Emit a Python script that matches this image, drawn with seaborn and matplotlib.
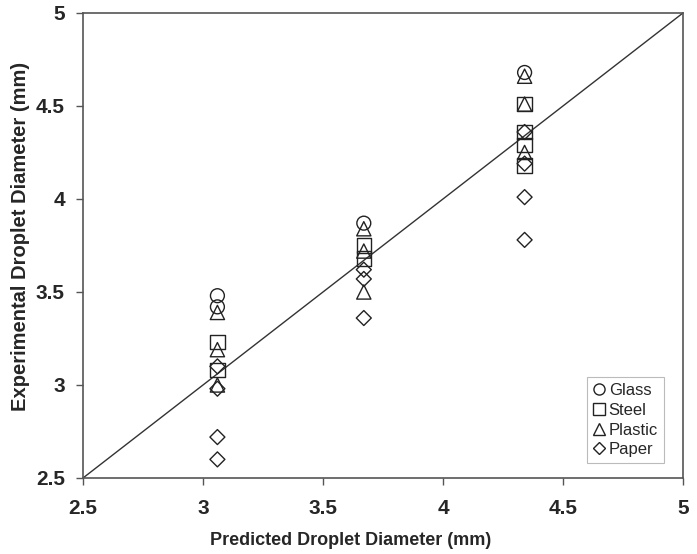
import numpy as np
import pandas as pd
import matplotlib
matplotlib.use("Agg")
import matplotlib.pyplot as plt
from matplotlib.lines import Line2D
import seaborn as sns

# ---- data ----
materials = ["Glass", "Steel", "Plastic", "Paper"]
glass_x = [3.06, 3.06, 3.67, 4.34]
glass_y = [3.48, 3.42, 3.87, 4.68]
steel_x = [3.06, 3.06, 3.67, 3.67, 4.34, 4.34, 4.34, 4.34]
steel_y = [3.23, 3.08, 3.75, 3.68, 4.51, 4.36, 4.29, 4.18]
plastic_x = [3.06, 3.06, 3.06, 3.67, 3.67, 3.67, 4.34, 4.34, 4.34]
plastic_y = [3.39, 3.19, 3.00, 3.84, 3.72, 3.50, 4.66, 4.51, 4.25]
paper_x = [3.06, 3.06, 3.06, 3.06, 3.67, 3.67, 3.67, 4.34, 4.34, 4.34, 4.34]
paper_y = [3.10, 2.98, 2.72, 2.60, 3.62, 3.57, 3.36, 4.36, 4.19, 4.01, 3.78]
x_ticks = [2.5, 3, 3.5, 4, 4.5, 5]
y_ticks = [2.5, 3, 3.5, 4, 4.5, 5]
tick_labels = ["2.5", "3", "3.5", "4", "4.5", "5"]

df = pd.concat([
    pd.DataFrame({"pred": glass_x, "exp": glass_y, "Material": "Glass"}),
    pd.DataFrame({"pred": steel_x, "exp": steel_y, "Material": "Steel"}),
    pd.DataFrame({"pred": plastic_x, "exp": plastic_y, "Material": "Plastic"}),
    pd.DataFrame({"pred": paper_x, "exp": paper_y, "Material": "Paper"}),
], ignore_index=True)

sns.set_style("white")
plt.rcParams["font.family"] = ["Liberation Sans", "DejaVu Sans"]

fig = plt.figure(figsize=(6.97, 5.54), dpi=100)
ax = fig.add_axes([0.1191, 0.1372, 0.8608, 0.8394])

marker_map = {"Glass": "o", "Steel": "s", "Plastic": "^", "Paper": "D"}
size_map = {"Glass": 100, "Steel": 105, "Plastic": 105, "Paper": 58}
for m in materials:
    sub = df[df["Material"] == m]
    sns.scatterplot(data=sub, x="pred", y="exp", marker=marker_map[m],
                    s=size_map[m], facecolor="none", edgecolor="#222222",
                    linewidth=1.0, ax=ax, legend=False, zorder=3)

ax.plot([2.5, 5], [2.5, 5], color="#333333", linewidth=1.0, zorder=2)

ax.set_xlim(2.5, 5)
ax.set_ylim(2.5, 5)
ax.set_xticks(x_ticks)
ax.set_yticks(y_ticks)
ax.set_xticklabels(tick_labels, fontsize=15, fontweight="bold")
ax.set_yticklabels(tick_labels, fontsize=15, fontweight="bold")
ax.tick_params(axis="x", direction="out", length=5, width=1, color="#555555",
               bottom=True, pad=10)
ax.tick_params(axis="y", direction="out", length=5, width=1, color="#555555",
               left=True, pad=8)
for sp in ax.spines.values():
    sp.set_color("#555555")
    sp.set_linewidth(1.2)

ax.set_xlabel("Predicted Droplet Diameter (mm)", fontsize=13, fontweight="bold")
ax.set_ylabel("Experimental Droplet Diameter (mm)", fontsize=14.5, fontweight="bold")
ax.xaxis.label.set_va("center")
ax.yaxis.label.set_va("center")
ax.xaxis.set_label_coords(0.446, -0.135)
ax.yaxis.set_label_coords(-0.105, 0.52)

handles = [Line2D([], [], linestyle="none", marker=marker_map[m], markerfacecolor="none",
                  markeredgecolor="#222222", markersize=8 if m != "Paper" else 6,
                  markeredgewidth=1.0, label=m) for m in materials]
leg = ax.legend(handles=handles, loc="lower right", fontsize=12, frameon=True,
                fancybox=False, handlelength=0.7, handletextpad=0.25,
                borderpad=0.35, labelspacing=0.28, borderaxespad=0,
                bbox_to_anchor=(0.968, 0.032))
leg.get_frame().set_edgecolor("#aaaaaa")
leg.get_frame().set_linewidth(0.8)

fig.savefig("out.png", dpi=100)
